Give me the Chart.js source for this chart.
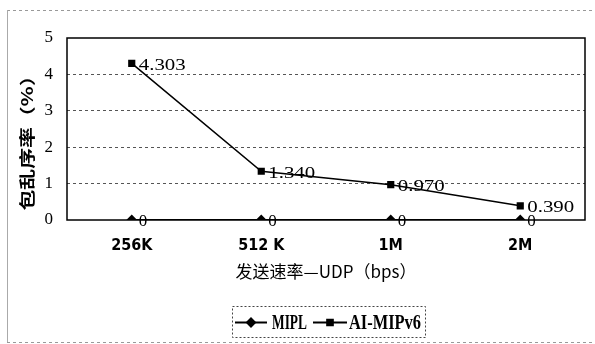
<!DOCTYPE html>
<html><head><meta charset="utf-8">
<script src="https://cdn.jsdelivr.net/npm/chart.js@4/dist/chart.umd.min.js"></script>
<style>html,body{margin:0;padding:0;background:#fff}#c{display:block}</style>
</head><body>
<canvas id="c" width="595" height="344"></canvas>
<script>
const categories = ["256K", "512 K", "1M", "2M"];
const seriesNames = ["MIPL", "AI-MIPv6"];
const mipl = [0, 0, 0, 0];
const aiMipv6 = [4.303, 1.340, 0.970, 0.390];
const yTicks = [0, 1, 2, 3, 4, 5];
const labelsMipl = ["0", "0", "0", "0"];
const labelsAi = ["4.303", "1.340", "0.970", "0.390"];
const xTitle = '发送速率—UDP（bps）';
const yTitle = '包乱序率（%）';

const narrow = '"Liberation Sans Narrow", "DejaVu Sans Condensed", sans-serif';
const serif = '"Liberation Serif", "DejaVu Serif", serif';
const cjk = '"Noto Sans CJK SC", sans-serif';

function stretchText(ctx, text, x, y, targetW, align) {
  const w = ctx.measureText(text).width;
  const s = targetW / w;
  ctx.save();
  ctx.translate(x, y);
  ctx.scale(s, 1);
  ctx.textAlign = align || 'left';
  ctx.fillText(text, 0, 0);
  ctx.restore();
}

const framePlugin = {
  id: 'frame',
  beforeDraw(chart) {
    const ctx = chart.ctx;
    ctx.save();
    ctx.strokeStyle = '#999';
    ctx.lineWidth = 1;
    ctx.setLineDash([3, 3]);
    ctx.beginPath();
    ctx.moveTo(7, 10.5); ctx.lineTo(592, 10.5);
    ctx.moveTo(7, 342.5); ctx.lineTo(592, 342.5);
    ctx.stroke();
    ctx.setLineDash([]);
    ctx.strokeStyle = '#aaa';
    ctx.beginPath();
    ctx.moveTo(7.5, 10); ctx.lineTo(7.5, 342);
    ctx.stroke();
    ctx.restore();
  },
  beforeDatasetsDraw(chart) {
    const {ctx, chartArea: a} = chart;
    ctx.save();
    ctx.strokeStyle = '#000';
    ctx.lineWidth = 1.5;
    ctx.strokeRect(a.left, a.top, a.right - a.left, a.bottom - a.top);
    ctx.restore();
  },
  afterDatasetsDraw(chart) {
    const ctx = chart.ctx;
    ctx.save();
    ctx.fillStyle = '#000';
    ctx.font = '17px ' + serif;
    ctx.textBaseline = 'middle';
    ctx.textAlign = 'left';
    const lab = [labelsMipl, labelsAi];
    chart.data.datasets.forEach((ds, i) => {
      const meta = chart.getDatasetMeta(i);
      meta.data.forEach((pt, j) => {
        const t = lab[i][j];
        const w = ctx.measureText(t).width;
        stretchText(ctx, t, pt.x + 7, pt.y + 2, t.length > 1 ? 47 : w);
      });
    });
    // y title (rotated)
    ctx.font = 'bold 16px ' + cjk;
    ctx.save();
    ctx.translate(27, 138);
    ctx.rotate(-Math.PI / 2);
    stretchText(ctx, yTitle, 0, 0, 145, 'center');
    ctx.restore();
    // legend
    const bx = 232, by = 306, bw = 193, bh = 31;
    ctx.strokeStyle = '#444';
    ctx.lineWidth = 1;
    ctx.setLineDash([2, 2]);
    ctx.strokeRect(bx + 0.5, by + 0.5, bw, bh);
    ctx.setLineDash([]);
    ctx.font = 'bold 20px ' + serif;
    const items = [
      {x: 235, len: 32, style: 'rectRot', text: seriesNames[0], tx: 272, tw: 35},
      {x: 313, len: 34, style: 'rect', text: seriesNames[1], tx: 349, tw: 72}
    ];
    const cy = by + bh / 2 + 1;
    items.forEach(it => {
      ctx.strokeStyle = '#000';
      ctx.lineWidth = 2;
      ctx.beginPath();
      ctx.moveTo(it.x, cy); ctx.lineTo(it.x + it.len, cy);
      ctx.stroke();
      Chart.helpers.drawPoint(ctx, {pointStyle: it.style, radius: 4, borderWidth: 1}, it.x + it.len / 2, cy);
      ctx.fillStyle = '#000';
      stretchText(ctx, it.text, it.tx, cy + 1, it.tw);
    });
    ctx.restore();
  }
};

new Chart(document.getElementById('c'), {
  type: 'line',
  data: {
    labels: categories,
    datasets: [
      {label: seriesNames[0], data: mipl, borderColor: '#000', backgroundColor: '#000', borderWidth: 2, pointStyle: 'rectRot', pointRadius: 4, tension: 0},
      {label: seriesNames[1], data: aiMipv6, borderColor: '#000', backgroundColor: '#000', borderWidth: 1.5, pointStyle: 'rect', pointRadius: 4, tension: 0}
    ]
  },
  options: {
    responsive: false,
    animation: false,
    layout: {padding: {left: 0, right: 10, top: 38, bottom: 62}},
    plugins: {legend: {display: false}, tooltip: {enabled: false}},
    scales: {
      x: {
        offset: true,
        afterFit(s) { s.height = 62; },
        grid: {display: false, drawTicks: false},
        border: {display: false},
        ticks: {font: {family: narrow, size: 16, weight: 'bold'}, color: '#000', padding: 16},
        title: {display: true, text: xTitle, font: {family: cjk, size: 17}, color: '#000', padding: {top: 2, bottom: 0}}
      },
      y: {
        min: 0, max: 5,
        afterFit(s) { s.width = 67; },
        afterBuildTicks(s) { s.ticks = yTicks.map(v => ({value: v})); },
        grid: {drawTicks: false, color: c => (c.tick.value === 0 || c.tick.value === 5) ? 'rgba(0,0,0,0)' : '#555', lineWidth: 1},
        border: {display: false, dash: [3, 3]},
        ticks: {font: {family: serif, size: 17}, color: '#000', padding: 14},
        title: {display: false}
      }
    }
  },
  plugins: [framePlugin]
});
</script>
</body></html>
